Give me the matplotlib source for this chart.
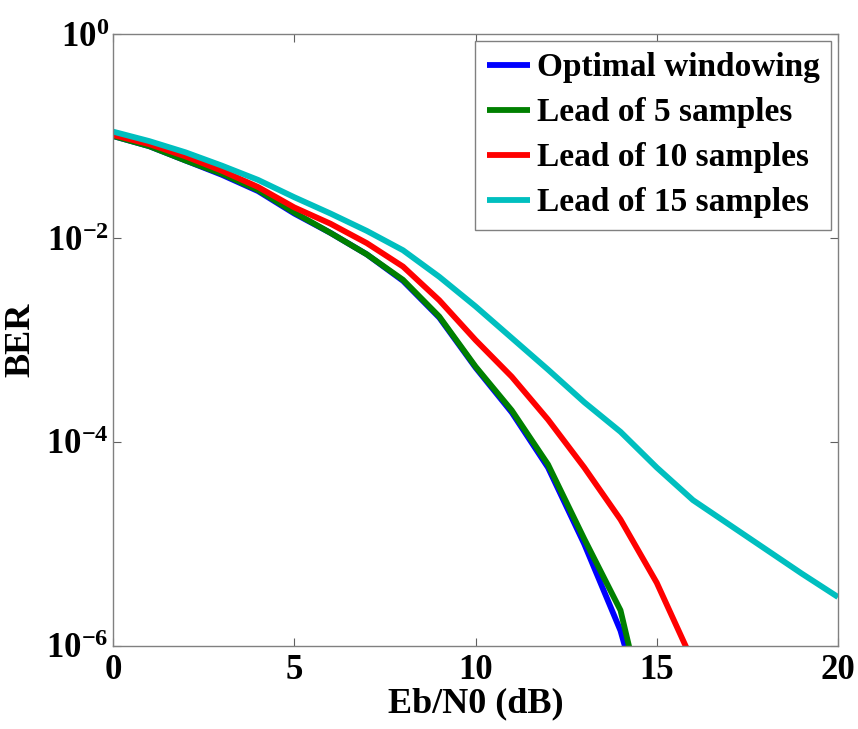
import numpy as np
import matplotlib
matplotlib.use("Agg")
import matplotlib.pyplot as plt
from matplotlib.ticker import FixedLocator, FuncFormatter, NullLocator

plt.rcParams['font.family'] = ['Liberation Serif', 'DejaVu Serif']
plt.rcParams['font.weight'] = 'bold'
plt.rcParams['mathtext.fontset'] = 'custom'
plt.rcParams['mathtext.rm'] = 'Liberation Serif:bold'
plt.rcParams['mathtext.it'] = 'Liberation Serif:bold'
plt.rcParams['mathtext.bf'] = 'Liberation Serif:bold'

# Data (log10 BER)
ebn0 = [0, 1, 2, 3, 4, 5, 6, 7, 8, 9, 10, 11, 12, 13, 14, 15, 16, 17, 18, 19, 20]

x_opt = [0, 1, 2, 3, 4, 5, 6, 7, 8, 9, 10, 11, 12, 13, 14, 14.2]
log_opt = [-1.0, -1.10, -1.24, -1.38, -1.54, -1.76, -1.95, -2.16, -2.42, -2.78,
           -3.27, -3.71, -4.25, -5.0, -5.85, -6.1]

x_lead5 = [0, 1, 2, 3, 4, 5, 6, 7, 8, 9, 10, 11, 12, 13, 14, 14.3]
log_lead5 = [-1.0, -1.10, -1.24, -1.37, -1.53, -1.75, -1.95, -2.16, -2.41, -2.77,
             -3.26, -3.69, -4.22, -4.95, -5.65, -6.1]

x_lead10 = [0, 1, 2, 3, 4, 5, 6, 7, 8, 9, 10, 11, 12, 13, 14, 15, 15.9]
log_lead10 = [-0.99, -1.08, -1.20, -1.34, -1.50, -1.70, -1.86, -2.05, -2.28, -2.61,
              -3.0, -3.36, -3.78, -4.25, -4.76, -5.38, -6.08]

x_lead15 = ebn0
log_lead15 = [-0.957, -1.05, -1.16, -1.29, -1.43, -1.60, -1.76, -1.93, -2.12, -2.38,
              -2.67, -2.98, -3.29, -3.61, -3.90, -4.25, -4.57, -4.81, -5.05, -5.29, -5.52]

labels = ['Optimal windowing', 'Lead of 5 samples', 'Lead of 10 samples', 'Lead of 15 samples']
colors = ['#0000ff', '#008000', '#ff0000', '#00bfbf']

fig = plt.figure(figsize=(8.58, 7.29), dpi=100)
ax = fig.add_axes([113/858, 1-646/729, (838-113)/858, (646-34)/729])

series = [(x_opt, log_opt), (x_lead5, log_lead5), (x_lead10, log_lead10), (x_lead15, log_lead15)]
for (xs, ls), lab, c in zip(series, labels, colors):
    ax.semilogy(xs, 10**np.array(ls), color=c, lw=4.2, label=lab, solid_capstyle='butt')

ax.set_xlim(0, 20)
ax.set_ylim(1e-6, 1)
ax.xaxis.set_major_locator(FixedLocator([0, 5, 10, 15, 20]))
ax.yaxis.set_major_locator(FixedLocator([1e-6, 1e-4, 1e-2, 1e0]))
ax.yaxis.set_minor_locator(NullLocator())
ax.yaxis.set_major_formatter(FuncFormatter(lambda v, p: r'$10^{%d}$' % int(round(np.log10(v)))))

for s in ax.spines.values():
    s.set_color('#808080')
    s.set_linewidth(1.0)
ax.tick_params(which='both', direction='in', top=True, right=True, length=6,
               color='#606060', labelsize=25)
ax.tick_params(axis='y', pad=3)
ax.tick_params(axis='x', pad=6)
for t in ax.get_xticklabels() + ax.get_yticklabels():
    t.set_fontweight('bold')

ax.set_xlabel('Eb/N0 (dB)', fontsize=26, fontweight='bold', labelpad=0)
ax.set_ylabel('BER', fontsize=26, fontweight='bold', labelpad=6)

leg = ax.legend(loc='upper right', handlelength=1.3, handletextpad=0.2,
                borderaxespad=0.2, borderpad=0.35, labelspacing=0.42, fancybox=False,
                framealpha=1, edgecolor='#808080', prop={'weight': 'bold', 'size': 24})
leg.get_frame().set_linewidth(1.0)

fig.savefig('out.png', dpi=100)
